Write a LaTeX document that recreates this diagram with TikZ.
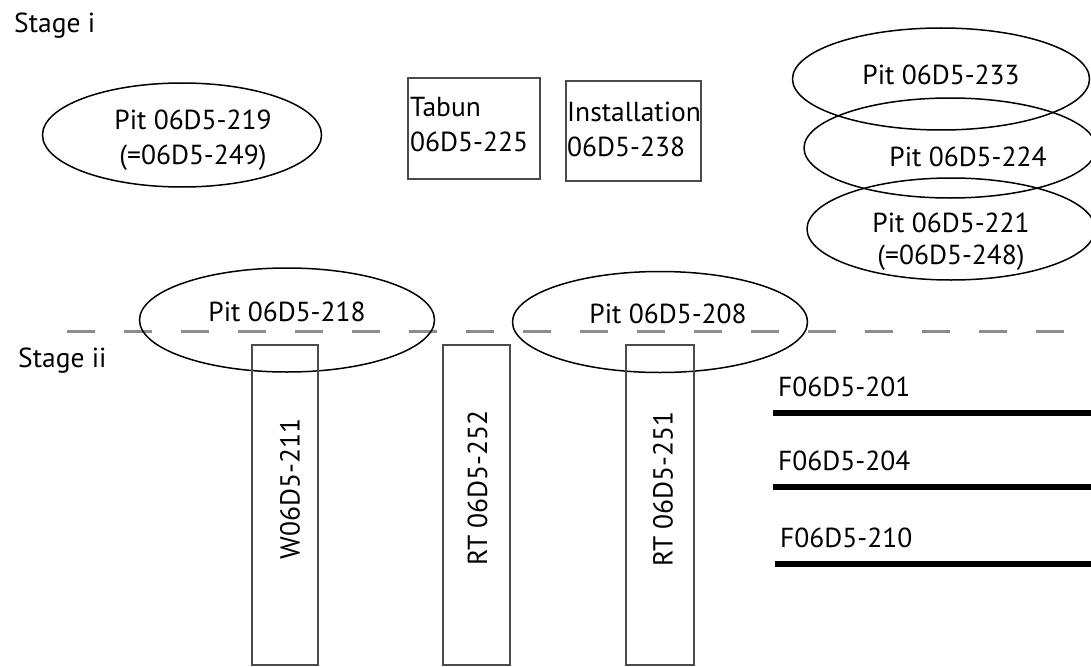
\documentclass[tikz,border=0pt]{standalone}
\usepackage{fontspec}
\setmainfont{PT Sans}
\usetikzlibrary{positioning,shapes.geometric}
\definecolor{DashGrey}{HTML}{8C8C8C}
\definecolor{EdgeGrey}{HTML}{4A4A4A}
\newcommand{\nudge}[2]{\raisebox{#1}[\height][\depth]{#2}}

\begin{document}
\begin{tikzpicture}[
			x=1pt,y=-1pt,
			every node/.style={font=\fontsize{27.5}{35}\selectfont},
			pit/.style={draw,ellipse,line width=1.5pt,inner sep=0pt},
			feat/.style={draw=EdgeGrey,line width=2.2pt,inner sep=0pt,anchor=north west},
			feattxt/.style={anchor=north west,align=left,inner sep=0pt,xshift=3pt,yshift=-20pt},
			cut/.style={draw=EdgeGrey,line width=1.8pt,rotate=90,minimum width=320,inner sep=0pt},
			floor/.style={line width=5.5pt},
			lbl/.style={anchor=base west,inner sep=0pt}
		]
		\useasboundingbox (0,0) rectangle (1091,666);
		% stage i
		\node[lbl] (st1) at (14,33) {Stage i};
		\node[pit,minimum width=279,minimum height=104] (p219) at (182,135)
			{\hspace*{22pt}\nudge{-5pt}{\begin{tabular}{@{}c@{}}Pit 06D5-219\\(=06D5-249)\end{tabular}}};
		\node[feat,minimum width=132,minimum height=101,label={[feattxt]north west:Tabun\\06D5-225}] (tabun) at (407,77) {};
		\node[feat,minimum width=135,minimum height=100,label={[feattxt,xshift=-1pt,yshift=-2pt]north west:Installation\\06D5-238}] (inst) at (565,80) {};
		\node[pit,minimum width=297,minimum height=102] (p233) at (941,79) {\nudge{4pt}{Pit 06D5-233}};
		\node[pit,minimum width=292,minimum height=100] (p224) at (950,148) {\hspace*{36pt}\nudge{-9pt}{Pit 06D5-224}};
		\node[pit,minimum width=288,minimum height=102] (p221) at (951,229)
			{\nudge{-12pt}{\begin{tabular}{@{}c@{}}Pit 06D5-221\\[-3pt](=06D5-248)\end{tabular}}};
		% boundary between stages
		\coordinate (cutL) at (67,331);
		\coordinate (cutR) at (1082,331);
		\draw[DashGrey,line width=3pt,dash pattern=on 28pt off 29pt] (cutL) -- (cutR);
		\node[pit,minimum width=295,minimum height=104] (p218) at (287,320) {\nudge{8pt}{Pit 06D5-218}};
		\node[pit,minimum width=295,minimum height=101] (p208) at (660,322) {\hspace*{16pt}\nudge{8pt}{Pit 06D5-208}};
		% stage ii
		\node[lbl] (st2) at (18,367) {Stage ii};
		\node[cut,minimum height=66] (w211) at (285,505) {\hspace*{32pt}\nudge{-5pt}{W06D5-211}};
		\node[cut,minimum height=67] (rt252) at (476.5,505) {\hspace*{34pt}\nudge{-1pt}{RT 06D5-252}};
		\node[cut,minimum height=68] (rt251) at (660,505) {\hspace*{32pt}\nudge{-3pt}{RT 06D5-251}};
		\coordinate (f201a) at (773,413);
		\coordinate (f201b) at (1091,413);
		\coordinate (f204a) at (773,487);
		\coordinate (f204b) at (1091,487);
		\coordinate (f210a) at (775,564);
		\coordinate (f210b) at (1091,564);
		\draw[floor] (f201a) -- (f201b);
		\draw[floor] (f204a) -- (f204b);
		\draw[floor] (f210a) -- (f210b);
		\node[lbl] (l201) at (778,396) {F06D5-201};
		\node[lbl] (l204) at (778,470) {F06D5-204};
		\node[lbl] (l210) at (780,547) {F06D5-210};
	\end{tikzpicture}
\end{document}
